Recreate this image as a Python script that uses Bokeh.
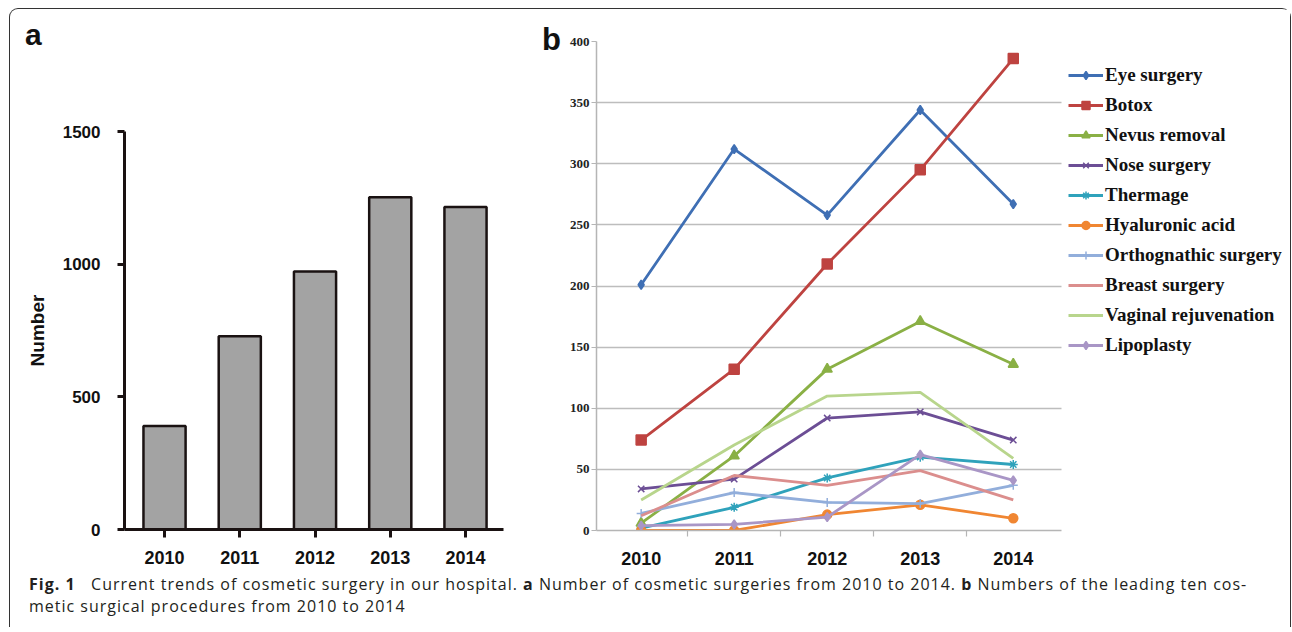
from bokeh.plotting import figure
from bokeh.models import Range1d, FixedTicker, Legend, LegendItem, Div
from bokeh.layouts import row, column
from bokeh.embed import file_html
from bokeh.resources import INLINE

# ---------------- data ----------------
years = [2010, 2011, 2012, 2013, 2014]
totals = [390, 728, 972, 1252, 1215]

names = ["Eye surgery", "Botox", "Nevus removal", "Nose surgery", "Thermage",
         "Hyaluronic acid", "Orthognathic surgery", "Breast surgery",
         "Vaginal rejuvenation", "Lipoplasty"]
eye = [201, 312, 258, 344, 267]
botox = [74, 132, 218, 295, 386]
nevus = [6, 61, 132, 171, 136]
nose = [34, 42, 92, 97, 74]
thermage = [2, 19, 43, 60, 54]
hyaluronic = [0, 0, 13, 21, 10]
orthognathic = [14, 31, 23, 22, 37]
breast = [12, 45, 37, 49, 25]
vaginal = [25, 70, 110, 113, 59]
lipoplasty = [4, 5, 11, 62, 41]
series = [eye, botox, nevus, nose, thermage, hyaluronic, orthognathic, breast, vaginal, lipoplasty]

colors = ["#3F6FB4", "#BE4340", "#8AB045", "#6C4E95", "#2FA2BB",
          "#F08632", "#92AEDB", "#DB8E8D", "#B8D58C", "#A996C6"]
markers = ["diamond", "square", "triangle", "x", "asterisk",
           "circle", "cross", None, None, "diamond"]

SANS = "Liberation Sans"
SERIF = "Liberation Serif"

# ---------------- panel a ----------------
fa = figure(width=530, height=526, output_backend="svg", toolbar_location=None,
            x_range=Range1d(2009.468, 2014.505), y_range=Range1d(0, 1500),
            min_border_left=114, min_border_right=37, min_border_top=86, min_border_bottom=42)
fa.outline_line_color = None
fa.grid.visible = False
fa.vbar(x=years, top=totals, width=0.56, bottom=0, fill_color="#A3A3A3",
        line_color="#1A1212", line_width=2.5)

xa = fa.xaxis[0]
xa.ticker = FixedTicker(ticks=years)
xa.axis_line_width = 3
xa.axis_line_color = "#1A1212"
xa.major_tick_line_width = 3
xa.major_tick_line_color = "#1A1212"
xa.major_tick_in = 0
xa.major_tick_out = 8
xa.minor_tick_line_color = None
xa.major_label_text_font = SANS
xa.major_label_text_font_style = "bold"
xa.major_label_text_font_size = "18px"
xa.major_label_text_color = "#111111"
xa.major_label_standoff = 13

ya = fa.yaxis[0]
ya.ticker = FixedTicker(ticks=[0, 500, 1000, 1500])
ya.axis_line_width = 3
ya.axis_line_color = "#1A1212"
ya.major_tick_line_width = 3
ya.major_tick_line_color = "#1A1212"
ya.major_tick_in = 0
ya.major_tick_out = 7
ya.minor_tick_line_color = None
ya.major_label_text_font = SANS
ya.major_label_text_font_style = "bold"
ya.major_label_text_font_size = "17px"
ya.major_label_text_color = "#111111"
ya.major_label_standoff = 17
ya.axis_label = "Number"
ya.axis_label_text_font = SANS
ya.axis_label_text_font_style = "bold"
ya.axis_label_text_font_size = "19px"
ya.axis_label_text_color = "#111111"
ya.axis_label_standoff = 12

lab_a = Div(text="<div style=\"font-family:'Liberation Sans'; font-weight:bold; font-size:30px; "
                 "line-height:30px; color:#111111; padding:11px 0 0 15px;\">a</div>",
            width=530, height=36, margin=0)

# ---------------- panel b ----------------
X_END = 2016.98
fb = figure(width=724, height=562, output_backend="svg", toolbar_location=None,
            x_range=Range1d(2009.52, X_END), y_range=Range1d(0, 400),
            min_border_left=27, min_border_right=0, min_border_top=32, min_border_bottom=41)
fb.outline_line_color = None
fb.xgrid.visible = False
fb.ygrid.grid_line_color = "#BDBDBD"
fb.ygrid.grid_line_width = 1.5
fb.ygrid.ticker = FixedTicker(ticks=list(range(0, 401, 50)))
try:
    fb.ygrid.cross_bounds = (2009.52, 2014.515)
except Exception:
    pass

xb = fb.xaxis[0]
xb.bounds = (2009.52, 2014.515)
xb.ticker = FixedTicker(ticks=years, minor_ticks=[2010.5, 2011.5, 2012.5, 2013.5])
xb.axis_line_color = "#B5B5B5"
xb.axis_line_width = 1.5
xb.major_tick_line_color = None
xb.major_tick_out = 0
xb.major_tick_in = 0
xb.minor_tick_line_color = "#B5B5B5"
xb.minor_tick_line_width = 1.2
xb.minor_tick_in = 0
xb.minor_tick_out = 6
xb.major_label_text_font = SANS
xb.major_label_text_font_style = "bold"
xb.major_label_text_font_size = "18px"
xb.major_label_text_color = "#111111"
xb.major_label_standoff = 15

yb = fb.yaxis[0]
yb.ticker = FixedTicker(ticks=list(range(0, 401, 50)))
yb.axis_line_color = "#B5B5B5"
yb.axis_line_width = 1.5
yb.major_tick_line_color = "#B5B5B5"
yb.major_tick_in = 0
yb.major_tick_out = 5
yb.minor_tick_line_color = None
yb.major_label_text_font = SERIF
yb.major_label_text_font_style = "bold"
yb.major_label_text_font_size = "13px"
yb.major_label_text_color = "#222222"
yb.major_label_standoff = 2

items = []
for name, vals, col, mk in zip(names, series, colors, markers):
    rs = [fb.line(years, vals, line_color=col, line_width=2.8)]
    if mk is not None:
        size = 10 if mk in ("triangle", "square") else 9
        rs.append(fb.scatter(years, vals, marker=mk, size=size, fill_color=col,
                             line_color=col, line_width=1.5))
    items.append(LegendItem(label=name, renderers=rs))

leg = Legend(items=items, location=(472, 174), orientation="vertical",
             glyph_width=35, glyph_height=20, label_height=20, label_standoff=2,
             spacing=8, padding=0, margin=0,
             border_line_color=None, background_fill_alpha=0,
             label_text_font=SERIF, label_text_font_style="bold",
             label_text_font_size="19px", label_text_color="#111111")
fb.add_layout(leg)

lab_b = Div(text="<div style=\"font-family:'Liberation Sans'; font-weight:bold; font-size:31px; "
                 "line-height:31px; color:#111111; padding:15px 0 0 2px;\">b</div>",
            width=26, height=562, margin=0)

# ---------------- caption ----------------
cap_html = ("<div style=\"font-family:'Open Sans'; font-size:16px; letter-spacing:1px; "
            "line-height:22px; color:#231F20; white-space:nowrap; padding:2px 0 0 19px;\">"
            "<b>Fig. 1</b>&nbsp;&nbsp; Current trends of cosmetic surgery in our hospital. "
            "<b>a</b> Number of cosmetic surgeries from 2010 to 2014. "
            "<b>b</b> Numbers of the leading ten cos-<br>"
            "metic surgical procedures from 2010 to 2014</div>")
cap = Div(text=cap_html, width=1280, height=56, margin=0)

layout = column(row(column(lab_a, fa), lab_b, fb), cap,
                styles={"border": "1.5px solid #333333", "border-bottom": "none",
                        "border-radius": "9px 9px 0 0",
                        "margin-left": "9px", "margin-top": "8px"})

open("out.html", "w").write(file_html(layout, INLINE))
